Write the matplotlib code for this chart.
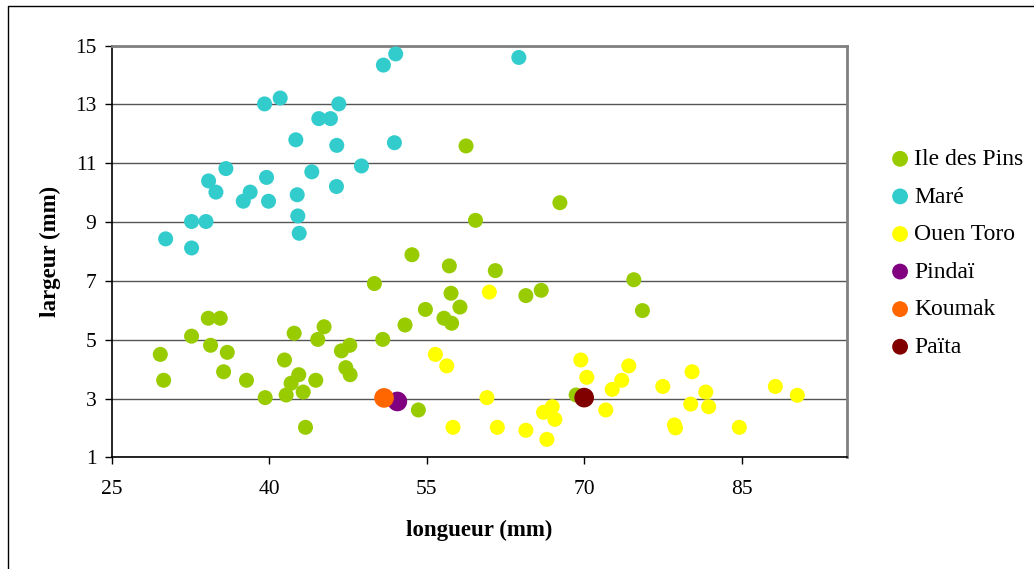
import matplotlib.pyplot as plt
from matplotlib.lines import Line2D

plt.rcParams['font.family'] = ['Liberation Serif', 'DejaVu Serif']

# Ile des Pins
pins_x = [58.75, 59.65, 67.69, 53.6, 57.16, 61.54, 74.73, 50.02, 57.32, 64.45, 65.91,
          58.17, 54.88, 75.55, 56.65, 57.38, 52.94, 50.82, 34.2, 35.34, 32.61, 34.42,
          36.01, 29.63, 29.95, 35.66, 37.84, 39.62, 42.38, 45.23, 44.63, 41.46, 42.82,
          42.09, 44.44, 41.62, 43.24, 43.46, 46.88, 47.68, 47.3, 47.71, 54.21, 69.24]
pins_y = [11.59, 9.06, 9.66, 7.89, 7.51, 7.35, 7.04, 6.91, 6.58, 6.5, 6.68,
          6.11, 6.03, 5.99, 5.73, 5.56, 5.5, 5.01, 5.73, 5.73, 5.12, 4.81,
          4.57, 4.5, 3.62, 3.91, 3.62, 3.03, 5.22, 5.44, 5.01, 4.31, 3.81,
          3.52, 3.62, 3.12, 3.22, 2.02, 4.62, 4.81, 4.05, 3.81, 2.61, 3.12]

# Maré
mare_x = [52.05, 50.88, 41.05, 39.56, 46.63, 44.73, 45.84, 42.54, 46.44, 51.93, 48.79,
          35.88, 44.06, 34.23, 39.75, 34.93, 38.19, 37.53, 39.94, 42.67, 46.41, 42.73,
          42.86, 32.61, 33.98, 30.14, 32.61, 63.78]
mare_y = [14.72, 14.34, 13.22, 13.02, 13.02, 12.52, 12.52, 11.8, 11.61, 11.7, 10.91,
          10.82, 10.71, 10.4, 10.52, 10.02, 10.02, 9.71, 9.71, 9.93, 10.21, 9.21,
          8.62, 9.02, 9.02, 8.43, 8.12, 14.6]

# Ouen Toro
toro_x = [55.83, 56.91, 57.51, 60.97, 60.74, 61.73, 64.45, 66.45, 66.13, 66.96, 67.21,
          69.68, 70.25, 72.67, 73.58, 74.25, 72.06, 77.49, 80.28, 78.6, 78.7, 80.15,
          81.58, 81.86, 84.78, 88.21, 90.3]
toro_y = [4.5, 4.11, 2.02, 6.62, 3.03, 2.02, 1.92, 1.61, 2.53, 2.72, 2.29,
          4.31, 3.72, 3.31, 3.62, 4.11, 2.61, 3.41, 3.91, 2.1, 2.0, 2.81,
          3.22, 2.72, 2.02, 3.41, 3.11]

pindai_x, pindai_y = [52.21], [2.9]
koumak_x, koumak_y = [50.94], [3.02]
paita_x, paita_y = [70.0], [3.03]

fig = plt.figure(figsize=(10.34, 5.69), dpi=100)
ax = fig.add_axes([0.108, 0.1963, 0.7108, 0.7234])

small = 117
big = 200
ax.scatter(pins_x, pins_y, s=small, color='#99CC00', edgecolor='none', label='Ile des Pins', zorder=3)
ax.scatter(mare_x, mare_y, s=small, color='#33CCCC', edgecolor='none', label='Maré', zorder=3)
ax.scatter(toro_x, toro_y, s=small, color='#FFFF00', edgecolor='none', label='Ouen Toro', zorder=3)
ax.scatter(pindai_x, pindai_y, s=big, color='#800080', edgecolor='none', label='Pindaï', zorder=3)
ax.scatter(koumak_x, koumak_y, s=big, color='#FF6600', edgecolor='none', label='Koumak', zorder=3)
ax.scatter(paita_x, paita_y, s=big, color='#800000', edgecolor='none', label='Païta', zorder=3)

ax.set_xlim(25, 95)
ax.set_ylim(1, 15)
ax.set_xticks([25, 40, 55, 70, 85])
ax.set_yticks(range(1, 16, 2))
ax.tick_params(direction='out', length=5, width=1, labelsize=15.5, color='black')
ax.tick_params(axis='x', pad=11)
ax.tick_params(axis='y', pad=6)
ax.yaxis.grid(True, color='#555555', linewidth=1)
ax.set_axisbelow(True)

for side in ['top', 'right']:
    ax.spines[side].set_color('#808080')
    ax.spines[side].set_linewidth(2)
for side in ['left', 'bottom']:
    ax.spines[side].set_color('black')
    ax.spines[side].set_linewidth(1.2)

ax.set_xlabel('longueur (mm)', fontsize=16.5, fontweight='bold', labelpad=15)
ax.set_ylabel('largeur (mm)', fontsize=16.5, fontweight='bold', labelpad=10)

leg = fig.legend(loc='center left', bbox_to_anchor=(0.8385, 0.555), frameon=False,
                 fontsize=17, handletextpad=0.1, handlelength=1.0, labelspacing=0.68,
                 markerscale=1.0)
for h in leg.legend_handles:
    h.set_sizes([130])

# outer chart border (top and left)
fig.add_artist(Line2D([8 / 1034, 8 / 1034, 1], [0, 1 - 6 / 569, 1 - 6 / 569],
                      color='black', linewidth=1, transform=fig.transFigure))

fig.savefig('out.png', dpi=100)
